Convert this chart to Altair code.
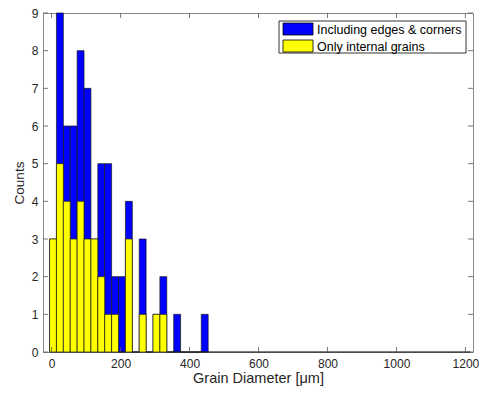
import altair as alt
import pandas as pd

# ---- data ----
series_names = ["Including edges & corners", "Only internal grains"]
series_colors = ["#0000ff", "#ffff00"]
first_edge = -6      # left edge of first bin [um]
bin_width = 20       # bin width [um]
blue_counts = [3, 9, 6, 6, 8, 7, 3, 5, 5, 2, 2, 4, 0, 3, 0, 1, 2, 0, 1, 0, 0, 0, 1,
               0, 0, 0, 0, 0, 0, 0, 0, 0, 0, 0, 0, 0, 0, 0, 0, 0, 0, 0, 0, 0, 0, 0,
               0, 0, 0, 0, 0, 0, 0, 0, 0, 0, 0, 0, 0, 0, 0]
yellow_counts = [3, 5, 4, 3, 4, 3, 3, 2, 1, 1, 0, 3, 0, 1, 0, 1, 1, 0, 0, 0, 0, 0, 0]
x_ticks = [0, 200, 400, 600, 800, 1000, 1200]
y_ticks = [0, 1, 2, 3, 4, 5, 6, 7, 8, 9]

W, H = 430, 339
FONT = "Liberation Sans"
TXT = "#262626"

rows = []
for name, counts in zip(series_names, [blue_counts, yellow_counts]):
    for k, c in enumerate(counts):
        rows.append({"series": name,
                     "x0": first_edge + k * bin_width,
                     "x1": first_edge + (k + 1) * bin_width,
                     "count": c})
df = pd.DataFrame(rows)

xs = alt.Scale(domain=[-25, 1222], nice=False, zero=False)
ys = alt.Scale(domain=[0, 9], nice=False)

x_axis = alt.Axis(values=x_ticks, format="d", title="Grain Diameter [μm]",
                  tickSize=0, domain=False, grid=False, labelPadding=6,
                  labelFontSize=12, titleFontSize=14.5, titlePadding=2,
                  labelColor=TXT, titleColor=TXT, labelFont=FONT,
                  titleFont=FONT, titleFontWeight="normal", labelOverlap=False)
y_axis = alt.Axis(values=y_ticks, format="d", title="Counts",
                  tickSize=0, domain=False, grid=False, labelPadding=5,
                  labelFontSize=12, titleFontSize=13.5, titlePadding=5,
                  labelColor=TXT, titleColor=TXT, labelFont=FONT,
                  titleFont=FONT, titleFontWeight="normal", labelOverlap=False)

bars = alt.Chart(df).mark_rect(stroke="#1a1a1a", strokeWidth=0.7, opacity=1).encode(
    x=alt.X("x0:Q", scale=xs, axis=x_axis),
    x2="x1:Q",
    y=alt.Y("count:Q", scale=ys, axis=y_axis),
    y2=alt.datum(0),
    color=alt.Color("series:N",
                    scale=alt.Scale(domain=series_names, range=series_colors),
                    legend=None),
)

xt = pd.DataFrame({"v": x_ticks})
yt = pd.DataFrame({"v": y_ticks})
tick_style = dict(color="#555555", strokeWidth=0.8)
bottom_ticks = alt.Chart(xt).mark_rule(**tick_style).encode(
    x=alt.X("v:Q", scale=xs, axis=x_axis), y=alt.value(H), y2=alt.value(H - 5))
top_ticks = alt.Chart(xt).mark_rule(**tick_style).encode(
    x=alt.X("v:Q", scale=xs, axis=x_axis), y=alt.value(0), y2=alt.value(5))
left_ticks = alt.Chart(yt).mark_rule(**tick_style).encode(
    y=alt.Y("v:Q", scale=ys, axis=y_axis), x=alt.value(0), x2=alt.value(5))
right_ticks = alt.Chart(yt).mark_rule(**tick_style).encode(
    y=alt.Y("v:Q", scale=ys, axis=y_axis), x=alt.value(W), x2=alt.value(W - 5))

# ---- legend (drawn by hand, matching the MATLAB box) ----
LX, LY = 236, 8
legend_layers = [
    alt.Chart(pd.DataFrame({"a": [0]})).mark_rect(
        fill="white", stroke="#000000", strokeWidth=0.8).encode(
        x=alt.value(LX), x2=alt.value(LX + 187),
        y=alt.value(LY), y2=alt.value(LY + 32))
]
for i, (name, col) in enumerate(zip(series_names, series_colors)):
    d = pd.DataFrame({"label": [name]})
    legend_layers.append(
        alt.Chart(d).mark_rect(fill=col, stroke="#000000", strokeWidth=0.8).encode(
            x=alt.value(LX + 4), x2=alt.value(LX + 34),
            y=alt.value(LY + 2 + 17 * i), y2=alt.value(LY + 14 + 17 * i)))
    legend_layers.append(
        alt.Chart(d).mark_text(align="left", baseline="middle", font=FONT,
                               fontSize=12.5, color="#000000").encode(
            x=alt.value(LX + 38), y=alt.value(LY + 8.5 + 17 * i), text="label:N"))

chart = alt.layer(bars, bottom_ticks, top_ticks, left_ticks, right_ticks,
                  *legend_layers).properties(
    width=W, height=H,
    autosize=alt.AutoSizeParams(type="none"),
    padding={"left": 43, "top": 13, "right": 6, "bottom": 41},
    background="white",
).configure_view(stroke="#8a8a8a", strokeWidth=1)

chart.save("out.html", embed_options={"renderer": "svg", "actions": False})
